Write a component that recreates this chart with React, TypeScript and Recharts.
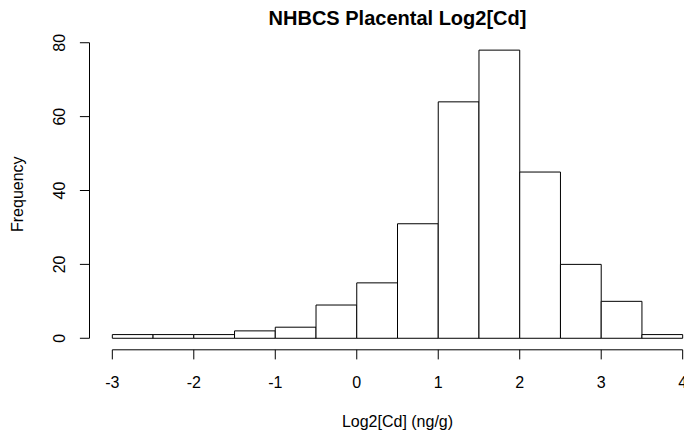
import React from "react";
import { ComposedChart, XAxis, YAxis, Line, ReferenceArea, ReferenceLine } from "recharts";

// Histogram bin edges (log2 ng/g) and counts per bin
const binStarts = [-3, -2.5, -2, -1.5, -1, -0.5, 0, 0.5, 1, 1.5, 2, 2.5, 3, 3.5];
const binEnds = [-2.5, -2, -1.5, -1, -0.5, 0, 0.5, 1, 1.5, 2, 2.5, 3, 3.5, 4];
const counts = [1, 1, 1, 2, 3, 9, 15, 31, 64, 78, 45, 20, 10, 1];

const xTicks = [-3, -2, -1, 0, 1, 2, 3, 4];
const yTicks = [0, 20, 40, 60, 80];

const title = "NHBCS Placental Log2[Cd]";
const xLabel = "Log2[Cd] (ng/g)";
const yLabel = "Frequency";

const rows = binStarts.map((s, i) => ({ mid: (s + binEnds[i]) / 2, count: counts[i] }));

const FONT = "'Liberation Sans', Arial, sans-serif";

const XTick = (props: any) => {
  const { x, y, payload } = props;
  return (
    <text x={x} y={y + 28.6} textAnchor="middle" fontSize={16} fill="#000" fontFamily={FONT}>
      {String(payload.value)}
    </text>
  );
};

const YTick = (props: any) => {
  const { x, y, payload } = props;
  const bx = x - 14.4;
  return (
    <text
      x={bx}
      y={y}
      transform={`rotate(-90, ${bx}, ${y})`}
      textAnchor="middle"
      fontSize={16}
      fill="#000"
      fontFamily={FONT}
    >
      {String(payload.value)}
    </text>
  );
};

const XLabel = (props: any) => {
  const vb = props.viewBox || { x: 0, y: 0, width: 0 };
  return (
    <text x={vb.x + vb.width / 2} y={vb.y + 77.2} textAnchor="middle" fontSize={16} fill="#000" fontFamily={FONT}>
      {xLabel}
    </text>
  );
};

const YLabel = (props: any) => {
  const vb = props.viewBox || { x: 0, y: 0, height: 0 };
  const cx = 23.5;
  const cy = vb.y + vb.height / 2;
  return (
    <text x={cx} y={cy} transform={`rotate(-90, ${cx}, ${cy})`} textAnchor="middle" fontSize={16} fill="#000" fontFamily={FONT}>
      {yLabel}
    </text>
  );
};

export default function App() {
  return (
    <div
      style={{
        position: "fixed",
        left: 0,
        top: 0,
        width: 684,
        height: 438,
        overflow: "hidden",
        background: "#fff",
      }}
    >
      <ComposedChart
        width={720}
        height={438}
        data={rows}
        margin={{ top: 38.6, right: 14.5, left: 0, bottom: 28.2 }}
      >
        <XAxis
          dataKey="mid"
          type="number"
          domain={[-3.28, 4.28]}
          ticks={xTicks}
          interval={0}
          axisLine={false}
          tickLine={{ stroke: "#000", strokeWidth: 1 }}
          tickSize={9.6}
          tickMargin={0}
          tick={<XTick />}
          height={60}
          allowDataOverflow
          label={<XLabel />}
        />
        <YAxis
          type="number"
          domain={[-3.12, 81.12]}
          ticks={yTicks}
          interval={0}
          axisLine={false}
          tickLine={{ stroke: "#000", strokeWidth: 1 }}
          tickSize={9.6}
          tickMargin={0}
          tick={<YTick />}
          width={89.5}
          allowDataOverflow
          label={<YLabel />}
        />
        {binStarts.map((s, i) => (
          <ReferenceArea
            key={i}
            x1={s}
            x2={binEnds[i]}
            y1={0}
            y2={counts[i]}
            fill="#fff"
            fillOpacity={1}
            stroke="#000"
            strokeWidth={1}
            strokeOpacity={1}
            ifOverflow="visible"
          />
        ))}
        <ReferenceLine
          segment={[
            { x: xTicks[0], y: -3.12 },
            { x: xTicks[xTicks.length - 1], y: -3.12 },
          ]}
          stroke="#000"
          strokeWidth={1}
          ifOverflow="visible"
        />
        <ReferenceLine
          segment={[
            { x: -3.28, y: yTicks[0] },
            { x: -3.28, y: yTicks[yTicks.length - 1] },
          ]}
          stroke="#000"
          strokeWidth={1}
          ifOverflow="visible"
        />
        <Line dataKey="count" stroke="none" dot={false} activeDot={false} isAnimationActive={false} />
      </ComposedChart>
      <svg
        width={684}
        height={438}
        style={{ position: "absolute", left: 0, top: 0, pointerEvents: "none" }}
      >
        <text x={397.5} y={25} textAnchor="middle" fontSize={20} fontWeight="bold" fill="#000" fontFamily={FONT}>
          {title}
        </text>
      </svg>
    </div>
  );
}
